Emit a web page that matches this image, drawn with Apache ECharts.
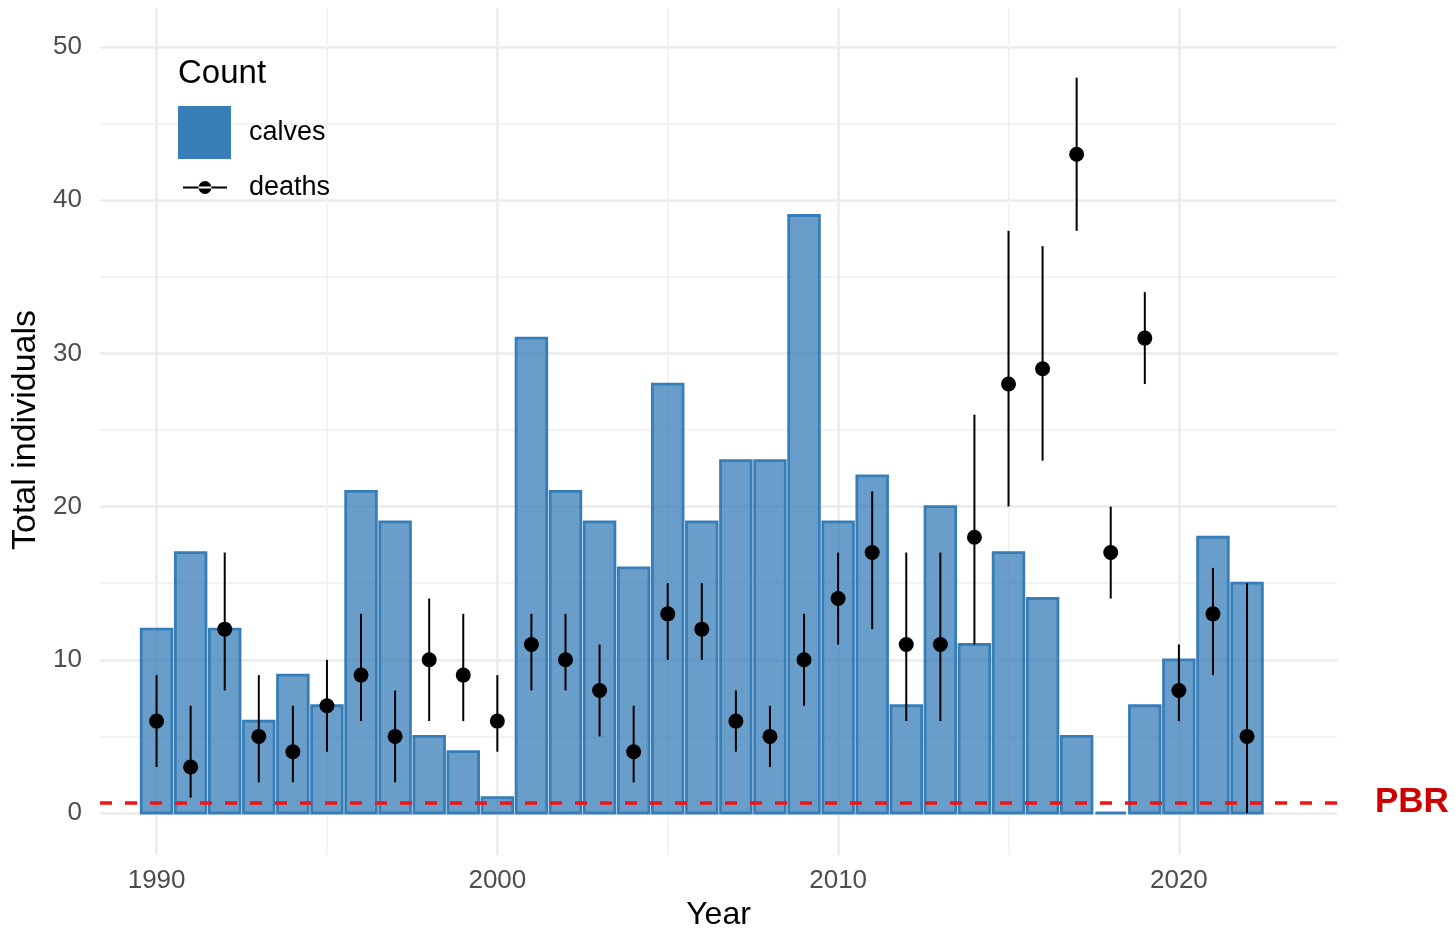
<!DOCTYPE html>
<html><head><meta charset="utf-8">
<script src="https://cdn.jsdelivr.net/npm/echarts@6/dist/echarts.min.js"></script>
<style>html,body{margin:0;padding:0;background:#fff;overflow:hidden}#c{width:1455px;height:936px}</style>
</head><body><div id="c"></div>
<script>
const years = [1990,1991,1992,1993,1994,1995,1996,1997,1998,1999,2000,2001,2002,2003,2004,2005,2006,2007,2008,2009,2010,2011,2012,2013,2014,2015,2016,2017,2018,2019,2020,2021,2022];
const calves = [12,17,12,6,9,7,21,19,5,4, 1,31,21,19,16,28,19,23,23,39, 19,22,7,20,11,17,14,5,0,7, 10,18,15];
const deaths = [6,3,12,5,4,7,9,5,10,9, 6,11,10,8,4,13,12,6,5,10, 14,17,11,11,18,28,29,43,17,31, 8,13,5];
const deathsLow = [3,1,8,2,2,4,6,2,6,6, 4,8,8,5,2,10,10,4,3,7, 11,12,6,6,11,20,23,38,14,28, 6,9,0];
const deathsHigh = [9,7,17,9,7,10,13,8,14,13, 9,13,13,11,7,15,15,8,7,13, 17,21,17,17,26,38,37,48,20,34, 11,16,15];
const pbr = 0.7;
const yTickMin = 0, yTickMax = 50, yTickStep = 10;
const xTickMin = 1990, xTickMax = 2020, xTickStep = 10;

const FONT = 'Liberation Sans, Arial, Helvetica, sans-serif';
const chart = echarts.init(document.getElementById('c'), null, {renderer: 'canvas'});

const barData = years.map((y, i) => [y, calves[i]]);
const errData = years.map((y, i) => [y, deathsLow[i], deathsHigh[i]]);
const pointData = years.map((y, i) => [y, deaths[i]]);

const option = {
  animation: false,
  backgroundColor: '#fff',
  textStyle: {fontFamily: FONT},
  title: {text: 'Count', left: 178, top: 57, padding: 0,
    textStyle: {fontSize: 33, fontWeight: 'normal', color: '#000', fontFamily: FONT}},
  legend: [
    {left: 178, top: 106, padding: 0, itemWidth: 53, itemHeight: 53, selectedMode: false,
      data: [{name: 'calves', icon: 'rect', itemStyle: {color: '#377EB8', borderWidth: 0}}],
      textStyle: {fontSize: 27, color: '#000', fontFamily: FONT, padding: [0, 0, 0, 13]}},
    {left: 183, top: 174, padding: 0, itemWidth: 44, itemHeight: 13, selectedMode: false,
      data: [{name: 'deaths', icon: 'path://M0,5.5L44,5.5L44,7.5L0,7.5Z M15.5,6.5A6.5,6.5,0,1,0,28.5,6.5A6.5,6.5,0,1,0,15.5,6.5Z', itemStyle: {color: '#000', opacity: 1}}],
      textStyle: {fontSize: 27, color: '#000', fontFamily: FONT, padding: [0, 0, 0, 17]}}
  ],
  grid: [
    {left: 100, right: 118, top: 47, bottom: 119, containLabel: false},
    {left: 156.6, right: 276.1, top: 8, bottom: 81, containLabel: false}
  ],
  xAxis: [
    {type: 'value', gridIndex: 0, min: 1988.34, max: 2024.64,
      axisLine: {show: false}, axisTick: {show: false}, axisLabel: {show: false}, splitLine: {show: false},
      name: 'Year', nameLocation: 'middle', nameGap: 86,
      nameTextStyle: {fontSize: 32, color: '#000', fontFamily: FONT}},
    {type: 'value', gridIndex: 1, min: xTickMin, max: xTickMax, interval: xTickStep,
      axisLine: {show: false}, axisTick: {show: false},
      axisLabel: {fontSize: 26, color: '#4D4D4D', margin: 13, fontFamily: FONT, formatter: v => String(v)},
      splitLine: {show: true, lineStyle: {color: '#EBEBEB', width: 2.5}},
      minorTick: {show: false, splitNumber: 2},
      minorSplitLine: {show: true, lineStyle: {color: '#F0F0F0', width: 1.5}}}
  ],
  yAxis: [
    {type: 'value', gridIndex: 0, min: yTickMin, max: yTickMax, interval: yTickStep,
      axisLine: {show: false}, axisTick: {show: false},
      axisLabel: {fontSize: 26, color: '#4D4D4D', margin: 18, fontFamily: FONT},
      splitLine: {show: true, lineStyle: {color: '#EBEBEB', width: 2.5}},
      minorTick: {show: false, splitNumber: 2},
      minorSplitLine: {show: true, lineStyle: {color: '#F0F0F0', width: 1.5}},
      name: 'Total individuals', nameLocation: 'middle', nameGap: 57,
      nameTextStyle: {fontSize: 34, color: '#000', fontFamily: FONT}},
    {type: 'value', gridIndex: 1, min: 0, max: 1, show: false}
  ],
  series: [
    {name: 'calves', type: 'custom', xAxisIndex: 0, yAxisIndex: 0, data: barData,
      encode: {x: 0, y: 1}, itemStyle: {color: '#377EB8'}, clip: false, z: 2,
      renderItem: function (params, api) {
        const x = api.value(0), v = api.value(1);
        const p0 = api.coord([x - 0.45, v]);
        const p1 = api.coord([x + 0.45, 0]);
        return {type: 'rect',
          shape: {x: p0[0], y: p0[1], width: p1[0] - p0[0], height: p1[1] - p0[1]},
          style: {fill: 'rgba(55,126,184,0.75)', stroke: '#377EB8', lineWidth: 2.8}};
      },
      markLine: {silent: true, symbol: 'none', z: 10,
        data: [{yAxis: pbr}],
        lineStyle: {color: '#F01414', type: [12, 13], width: 3.5, opacity: 1},
        label: {show: true, position: 'end', formatter: 'PBR', distance: 38,
          color: '#CC0000', fontWeight: 'bold', fontSize: 35, fontFamily: FONT},
        emphasis: {disabled: true}}
    },
    {name: 'deaths range', type: 'custom', xAxisIndex: 0, yAxisIndex: 0, data: errData,
      encode: {x: 0, y: [1, 2]}, clip: false, z: 3,
      renderItem: function (params, api) {
        const x = api.value(0);
        const a = api.coord([x, api.value(1)]);
        const b = api.coord([x, api.value(2)]);
        return {type: 'line', shape: {x1: a[0], y1: a[1], x2: b[0], y2: b[1]},
          style: {stroke: '#000', lineWidth: 2}};
      }
    },
    {name: 'deaths', type: 'scatter', xAxisIndex: 0, yAxisIndex: 0, data: pointData,
      symbol: 'circle', symbolSize: 15, itemStyle: {color: '#000', opacity: 1}, z: 4, clip: false}
  ]
};
chart.setOption(option);
</script>
</body></html>
